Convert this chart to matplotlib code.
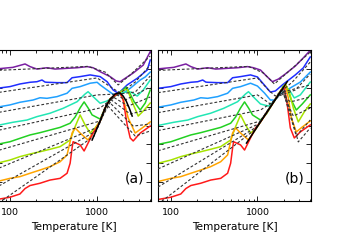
import matplotlib
matplotlib.use('Agg')
import matplotlib.pyplot as plt
from matplotlib.ticker import FixedLocator, NullFormatter, FixedFormatter

# ---- data: temperature [K] and offset intensity; left parts shared by both panels ----
purple_T = [71, 108, 149, 170, 204, 266, 329, 452, 589, 768, 899]
purple_y = [7.00, 7.08, 7.26, 7.12, 6.99, 7.06, 6.99, 7.03, 7.06, 7.12, 7.06]
purple_aT = [1083, 1410, 1653, 1838, 2098, 2593, 3379, 4066]
purple_ay = [6.85, 6.59, 6.36, 6.32, 6.50, 6.78, 7.20, 7.91]
purple_bT = [1083, 1269, 1487, 1744, 2098, 2734, 3379, 4066]
purple_by = [6.94, 6.62, 6.32, 6.46, 6.73, 7.15, 7.58, 7.98]

blue_T = [71, 100, 130, 170, 204, 233, 253, 266, 347, 452, 516, 638, 831]
blue_y = [5.97, 6.06, 6.20, 6.29, 6.32, 6.41, 6.30, 6.29, 6.27, 6.27, 6.53, 6.59, 6.68]
blue_aT = [1083, 1303, 1527, 1698, 1838, 2212, 2883, 3756, 4066]
blue_ay = [6.59, 6.32, 5.88, 5.74, 5.79, 6.15, 6.50, 6.94, 7.47]
blue_bT = [1000, 1172, 1410, 1610, 1938, 2734, 3379, 4066]
blue_by = [6.57, 6.20, 5.77, 5.83, 6.15, 6.68, 7.05, 7.63]

lblue_T = [71, 100, 130, 184, 221, 266, 347, 452, 516, 638, 831]
lblue_y = [4.97, 5.09, 5.23, 5.35, 5.47, 5.44, 5.53, 5.71, 5.97, 6.06, 6.24]
lblue_aT = [1000, 1083, 1303, 1527, 1744, 1990, 2395, 3121, 3562, 4066]
lblue_ay = [6.29, 6.15, 5.88, 5.65, 5.62, 5.71, 5.97, 6.41, 6.57, 6.83]
lblue_bT = [1000, 1204, 1410, 1568, 1838, 2395, 3121, 4066]
lblue_by = [6.09, 5.72, 5.35, 5.35, 5.67, 5.99, 6.30, 6.83]

turq_T = [71, 108, 157, 204, 288, 407, 589, 728, 788]
turq_y = [4.00, 4.17, 4.29, 4.47, 4.65, 4.91, 5.26, 5.67, 5.79]
turq_aT = [899, 1083, 1303, 1527, 1744, 2098, 2459, 2883, 3379, 4066]
turq_ay = [5.53, 5.18, 5.30, 5.51, 5.67, 5.77, 5.77, 5.56, 5.88, 6.41]
turq_bT = [899, 1083, 1338, 1568, 1838, 2043, 2333, 2662, 3121, 4066]
turq_by = [5.51, 5.14, 5.03, 5.30, 5.77, 5.99, 5.88, 5.46, 5.62, 6.30]

green_T = [71, 100, 130, 170, 221, 288, 376, 490, 559, 638, 709]
green_y = [3.00, 3.14, 3.32, 3.50, 3.62, 3.76, 3.90, 4.12, 4.45, 4.93, 5.25]
green_aT = [788, 876, 1083, 1236, 1410, 1698, 1990, 2154, 2395, 2662, 3121, 3562, 4066]
green_ay = [4.93, 4.56, 4.34, 4.93, 5.40, 5.67, 5.88, 6.04, 5.67, 5.25, 4.82, 5.19, 5.88]
green_bT = [788, 876, 1083, 1269, 1487, 1744, 1990, 2154, 2459, 2807, 3290, 4066]
green_by = [4.93, 4.56, 4.29, 4.61, 5.14, 5.62, 6.09, 6.09, 5.35, 4.82, 5.14, 5.62]

ygreen_T = [71, 100, 130, 170, 221, 288, 376, 490, 559, 638]
ygreen_y = [2.00, 2.17, 2.35, 2.49, 2.61, 2.74, 2.88, 3.23, 3.94, 4.56]
ygreen_aT = [728, 831, 948, 1083, 1236, 1410, 1698, 1938, 2212, 2525, 2960, 3470, 4066]
ygreen_ay = [4.03, 3.60, 3.87, 4.24, 4.93, 5.40, 5.67, 5.83, 5.93, 5.25, 4.50, 4.82, 5.19]
ygreen_bT = [728, 831, 948, 1083, 1410, 1838, 2098, 2333, 2593, 2960, 3470, 4066]
ygreen_by = [4.03, 3.60, 3.81, 4.19, 4.98, 5.83, 6.20, 5.77, 4.93, 4.19, 4.72, 5.14]

orange_T = [71, 100, 130, 170, 221, 288, 376, 452, 516, 559]
orange_y = [1.03, 1.20, 1.29, 1.47, 1.64, 1.82, 2.08, 2.44, 3.60, 3.87]
orange_aT = [638, 788, 923, 1083, 1236, 1410, 1698, 1838, 2043, 2271, 2734, 3290, 4066]
orange_ay = [3.60, 3.23, 3.71, 4.24, 4.93, 5.40, 5.67, 5.72, 5.25, 4.40, 3.60, 3.87, 4.19]
orange_bT = [638, 788, 923, 1083, 1410, 1887, 2098, 2271, 2459, 2807, 3290, 4066]
orange_by = [3.60, 3.23, 3.71, 4.19, 4.98, 5.88, 6.15, 5.46, 4.40, 3.66, 3.92, 4.24]

red_T = [71, 100, 130, 149, 170, 221, 288, 376, 452, 490, 516, 530]
red_y = [0.08, 0.20, 0.37, 0.66, 0.82, 0.94, 1.11, 1.20, 1.47, 2.00, 2.81, 3.14]
red_aT = [638, 709, 899, 1000, 1083, 1236, 1410, 1698, 1838, 1990, 2212, 2395, 2593, 3121, 4066]
red_ay = [2.97, 2.65, 3.60, 3.92, 4.24, 4.93, 5.40, 5.67, 5.72, 5.35, 4.03, 3.34, 3.18, 3.60, 3.97]
red_bT = [638, 709, 831, 948, 1083, 1410, 1887, 2043, 2212, 2395, 2662, 3121, 4066]
red_by = [2.97, 2.70, 3.34, 3.87, 4.19, 4.98, 5.88, 5.99, 5.09, 3.87, 3.34, 3.66, 4.03]

# black reference curves
hump_aT = [876, 948, 1083, 1236, 1410, 1610, 1744, 1838, 1990, 2154, 2333, 2525]
hump_ay = [3.23, 3.60, 4.24, 4.93, 5.40, 5.67, 5.72, 5.72, 5.56, 5.30, 4.93, 4.50]
line_bT = [747, 2212]
line_by = [3.07, 6.33]

# dashed model curves (panel a)
dpurple_aT = [71, 788, 1236, 1744, 2395, 4066]
dpurple_ay = [6.92, 7.13, 6.83, 6.15, 6.68, 7.68]
dblue_aT = [71, 1000, 1487, 1838, 2734, 4066]
dblue_ay = [5.74, 6.52, 5.99, 5.72, 6.30, 7.20]
dlblue_aT = [71, 1000, 1744, 2734, 4066]
dlblue_ay = [4.68, 5.62, 5.67, 5.77, 6.62]
dturq_aT = [71, 1083, 1698, 2098, 4066]
dturq_ay = [3.73, 4.93, 5.62, 5.35, 6.04]
dgreen_aT = [71, 1083, 1527, 2271, 4066]
dgreen_ay = [2.66, 4.24, 5.51, 5.03, 5.51]
dygreen_aT = [71, 1027, 1410, 2395, 4066]
dygreen_ay = [1.70, 3.92, 5.40, 4.61, 4.87]
dorange_aT = [71, 974, 1338, 2593, 4066]
dorange_ay = [0.74, 3.71, 5.30, 3.97, 4.08]
dred_aT = [71, 923, 1269, 2734, 4066]
dred_ay = [-0.17, 3.44, 5.14, 3.44, 3.71]

# dashed model curves (panel b)
dpurple_bT = [71, 788, 1172, 1568, 2395, 4066]
dpurple_by = [6.92, 7.13, 6.78, 6.20, 6.94, 7.89]
dblue_bT = [71, 1000, 1338, 1610, 2525, 4066]
dblue_by = [5.74, 6.52, 5.88, 5.56, 6.30, 7.36]
dlblue_bT = [71, 1000, 1410, 1744, 2734, 4066]
dlblue_by = [4.68, 5.62, 5.14, 5.56, 5.88, 6.73]
dturq_bT = [71, 1083, 1568, 1938, 4066]
dturq_by = [3.73, 4.82, 5.30, 5.77, 6.15]
dgreen_bT = [71, 1083, 1838, 2395, 4066]
dgreen_by = [2.66, 4.24, 5.77, 5.25, 5.51]
dygreen_bT = [71, 1027, 1887, 2593, 4066]
dygreen_by = [1.70, 4.08, 5.88, 4.50, 4.93]
dorange_bT = [71, 974, 1938, 2807, 4066]
dorange_by = [0.74, 3.92, 5.93, 3.44, 4.29]
dred_bT = [71, 923, 1990, 2960, 4066]
dred_by = [-0.17, 3.76, 6.04, 3.13, 3.87]

colors = ['#7a1fa2', '#1f2dff', '#1fa0ff', '#22e6b4', '#22d022', '#a6e400', '#ffa500', '#ff1a1a']

panel_a = [
    (purple_T + purple_aT, purple_y + purple_ay, dpurple_aT, dpurple_ay),
    (blue_T + blue_aT, blue_y + blue_ay, dblue_aT, dblue_ay),
    (lblue_T + lblue_aT, lblue_y + lblue_ay, dlblue_aT, dlblue_ay),
    (turq_T + turq_aT, turq_y + turq_ay, dturq_aT, dturq_ay),
    (green_T + green_aT, green_y + green_ay, dgreen_aT, dgreen_ay),
    (ygreen_T + ygreen_aT, ygreen_y + ygreen_ay, dygreen_aT, dygreen_ay),
    (orange_T + orange_aT, orange_y + orange_ay, dorange_aT, dorange_ay),
    (red_T + red_aT, red_y + red_ay, dred_aT, dred_ay),
]
panel_b = [
    (purple_T + purple_bT, purple_y + purple_by, dpurple_bT, dpurple_by),
    (blue_T + blue_bT, blue_y + blue_by, dblue_bT, dblue_by),
    (lblue_T + lblue_bT, lblue_y + lblue_by, dlblue_bT, dlblue_by),
    (turq_T + turq_bT, turq_y + turq_by, dturq_bT, dturq_by),
    (green_T + green_bT, green_y + green_by, dgreen_bT, dgreen_by),
    (ygreen_T + ygreen_bT, ygreen_y + ygreen_by, dygreen_bT, dygreen_by),
    (orange_T + orange_bT, orange_y + orange_by, dorange_bT, dorange_by),
    (red_T + red_bT, red_y + red_by, dred_bT, dred_by),
]

fig = plt.figure(figsize=(3.42, 2.52), dpi=100)
ax_a = fig.add_axes([-3 / 342, 51 / 252, 154 / 342, 151 / 252])
ax_b = fig.add_axes([158 / 342, 51 / 252, 153 / 342, 151 / 252])

minor = [80, 90, 200, 300, 400, 500, 600, 700, 800, 900, 2000, 3000, 4000]

for ax, curves, black_T, black_y, tag in [(ax_a, panel_a, hump_aT, hump_ay, '(a)'),
                                           (ax_b, panel_b, line_bT, line_by, '(b)')]:
    for (T, y, dT, dy), c in zip(curves, colors):
        ax.plot(dT, dy, color='0.2', lw=0.8, dashes=(2.5, 1.8), zorder=3)
        ax.plot(T, y, color=c, lw=1.1, zorder=2)
    ax.plot(black_T, black_y, color='k', lw=1.1, zorder=4)

    ax.set_xscale('log')
    ax.set_xlim(71, 4150)
    ax.set_ylim(0, 8)
    ax.xaxis.set_major_locator(FixedLocator([100, 1000]))
    ax.xaxis.set_major_formatter(FixedFormatter(['100', '1000']))
    ax.xaxis.set_minor_locator(FixedLocator(minor))
    ax.xaxis.set_minor_formatter(NullFormatter())
    ax.yaxis.set_major_locator(FixedLocator(range(0, 9)))
    ax.yaxis.set_major_formatter(NullFormatter())
    ax.tick_params(which='both', direction='in', top=True, right=True, left=True, bottom=True, width=0.6)
    ax.tick_params(which='major', length=3.5, labelsize=6.8, pad=5)
    ax.tick_params(which='minor', length=1.8)
    for s in ax.spines.values():
        s.set_linewidth(0.8)
    ax.set_xlabel('Temperature [K]', fontsize=7.6, labelpad=4)
    ax.text(0.89, 0.15, tag, transform=ax.transAxes, fontsize=10, ha='center', va='center')

fig.savefig('out.png', dpi=100)
